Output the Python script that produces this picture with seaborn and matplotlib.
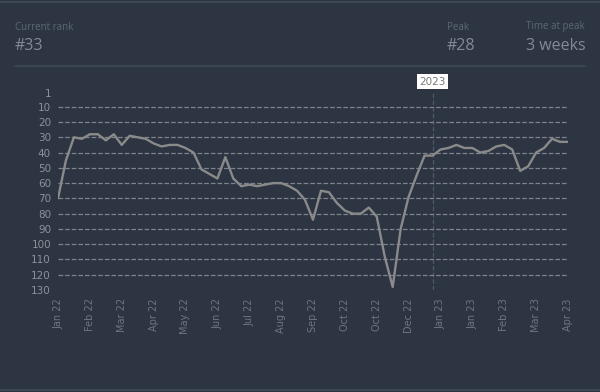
import numpy as np
import pandas as pd
import seaborn as sns
import matplotlib.pyplot as plt

# weekly chart rank (1 = top)
ranks = [70, 45, 30, 31, 28, 28, 32, 28, 35, 29, 30, 31, 34, 36, 35, 35, 37, 40, 51, 54,
         57, 43, 57, 62, 61, 62, 61, 60, 60, 62, 65, 71, 84, 65, 66, 73, 78, 80, 80, 76,
         82, 108, 128, 90, 69, 55, 42, 42, 38, 37, 35, 37, 37, 40, 39, 36, 35, 38, 52, 49,
         40, 37, 31, 33, 33]
tick_labels = ['Jan 22', 'Feb 22', 'Mar 22', 'Apr 22', 'May 22', 'Jun 22', 'Jul 22', 'Aug 22',
               'Sep 22', 'Oct 22', 'Oct 22', 'Dec 22', 'Jan 23', 'Jan 23', 'Feb 23', 'Mar 23', 'Apr 23']
y_ticks = [1, 10, 20, 30, 40, 50, 60, 70, 80, 90, 100, 110, 120, 130]
year_week = 47
current_rank = 33
peak_rank = 28
weeks_at_peak = '3 weeks'

df = pd.DataFrame({'week': range(len(ranks)), 'rank': ranks})

bg = '#2c3541'
sns.set_style('dark')
plt.rcParams['font.family'] = ['DejaVu Sans']

fig = plt.figure(figsize=(6, 3.92), dpi=100, facecolor=bg)
# card edges top and bottom
fig.add_artist(plt.Line2D([0, 1], [1-2/392, 1-2/392], color='#3c4755', lw=1.5))
fig.add_artist(plt.Line2D([0, 1], [2/392, 2/392], color='#3c4755', lw=1.5))

# header
hf = ['Open Sans', 'DejaVu Sans']
fig.text(15/600, 1-27/392, 'Current rank', color='#5d6773', fontsize=7, family=hf, va='center')
fig.text(15/600, 1-46/392, '#%d' % current_rank, color='#838b95', fontsize=11.5, family=hf, va='center')
fig.text(447/600, 1-27/392, 'Peak', color='#5d6773', fontsize=7, family=hf, va='center')
fig.text(447/600, 1-46/392, '#%d' % peak_rank, color='#838b95', fontsize=11.5, family=hf, va='center')
fig.text(526/600, 1-27/392, 'Time at peak', color='#5d6773', fontsize=7, family=hf, va='center')
fig.text(526/600, 1-46/392, weeks_at_peak, color='#838b95', fontsize=11.5, family=hf, va='center')
fig.add_artist(plt.Line2D([15/600, 585/600], [1-66/392, 1-66/392], color='#3e4956', lw=1.2))

ax = fig.add_axes([58/600, 1-290/392, 510/600, 197/392])
ax.set_facecolor(bg)
sns.lineplot(data=df, x='week', y='rank', ax=ax, color='#8a8a8a', lw=1.7)

ax.set_xlim(0, len(ranks)-1)
ax.set_ylim(130, 1)
ax.set_yticks(y_ticks)
ax.set_yticklabels([str(v) for v in y_ticks])
ax.set_xticks(range(0, len(ranks), 4))
ax.set_xticklabels(tick_labels, rotation=90)
ax.tick_params(axis='y', colors='#8a929b', labelsize=7.5, length=0, pad=5)
ax.tick_params(axis='x', colors='#6c7581', labelsize=7, length=0, pad=6)
ax.set_xlabel('')
ax.set_ylabel('')
ax.grid(axis='y', linestyle='--', color='#7d848d', lw=0.9)
ax.grid(axis='x', visible=False)
gl = ax.get_ygridlines()
gl[0].set_visible(False)
gl[-1].set_visible(False)
for s in ax.spines.values():
    s.set_visible(False)

# year marker
ax.axvline(year_week, color='#4f5a67', lw=0.9, ls='--', zorder=0)
ax.annotate('2023', xy=(year_week, 1), xycoords=('data', 'axes fraction'), xytext=(0, 8),
            textcoords='offset points', ha='center', va='center', fontsize=7.5, color='#7a7a7a',
            bbox=dict(boxstyle='square,pad=0.25', facecolor='white', edgecolor='none'),
            annotation_clip=False)

fig.savefig('out.png', dpi=100, facecolor=bg)
